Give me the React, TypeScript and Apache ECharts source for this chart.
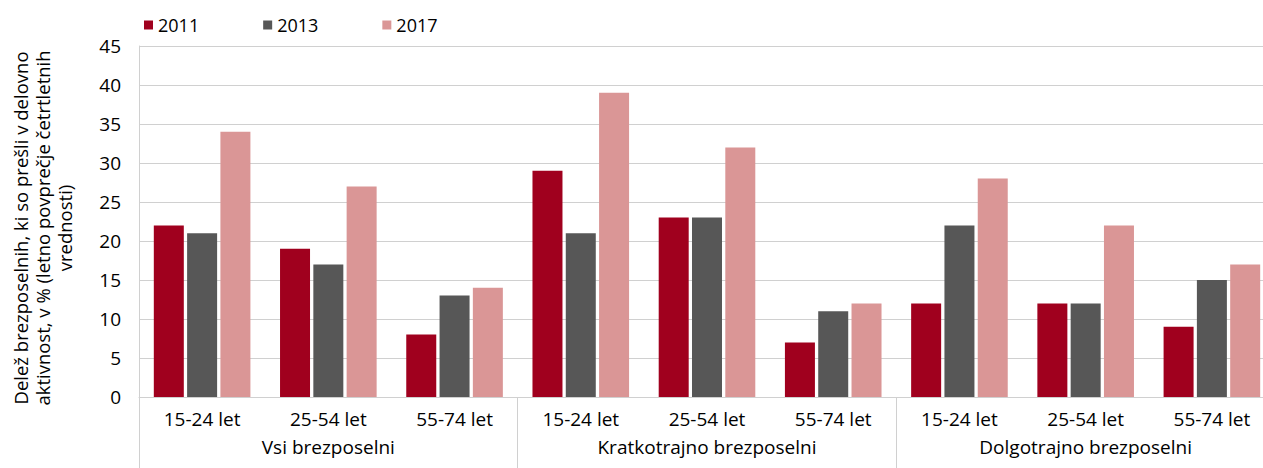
import React, { useEffect, useRef } from "react";
import * as echarts from "echarts";

const subCategories = [
  "15-24 let", "25-54 let", "55-74 let",
  "15-24 let", "25-54 let", "55-74 let",
  "15-24 let", "25-54 let", "55-74 let",
];
const groups = ["Vsi brezposelni", "Kratkotrajno brezposelni", "Dolgotrajno brezposelni"];
const seriesNames = ["2011", "2013", "2017"];
const values2011 = [22, 19, 8, 29, 23, 7, 12, 12, 9];
const values2013 = [21, 17, 13, 21, 23, 11, 22, 12, 15];
const values2017 = [34, 27, 14, 39, 32, 12, 28, 22, 17];
const colors = ["#A0001E", "#575757", "#DA9696"];
const yAxisTitle =
  "Delež brezposelnih, ki so prešli v delovno\naktivnost, v % (letno povprečje četrtletnih\nvrednosti)";

const FONT = "'Open Sans', 'Noto Sans', sans-serif";

export default function App() {
  const ref = useRef<HTMLDivElement>(null);
  useEffect(() => {
    if (!ref.current) return;
    const chart = echarts.init(ref.current, null, { renderer: "svg" });
    const allValues = [values2011, values2013, values2017];
    chart.setOption({
      animation: false,
      textStyle: { fontFamily: FONT },
      legend: {
        left: 139,
        top: 11,
        icon: "rect",
        itemWidth: 9,
        itemHeight: 9,
        itemGap: 64,
        textStyle: { fontSize: 18, color: "#000", fontFamily: FONT },
        data: seriesNames,
      },
      grid: { left: 139, right: 15, top: 46, bottom: 71, containLabel: false },
      xAxis: [
        {
          type: "category",
          data: subCategories,
          position: "bottom",
          axisLine: { show: true, lineStyle: { color: "#d0d0d0", width: 1 } },
          axisTick: { show: false },
          axisLabel: { fontSize: 19, color: "#000", margin: 12, interval: 0, fontFamily: FONT },
        },
        {
          type: "category",
          data: groups,
          position: "bottom",
          offset: 0,
          axisLine: { show: false },
          axisTick: { show: true, length: 80, interval: 0, lineStyle: { color: "#d0d0d0", width: 1 } },
          axisLabel: { fontSize: 19, color: "#000", margin: 40, interval: 0, fontFamily: FONT },
          splitLine: { show: false },
        },
      ],
      yAxis: {
        type: "value",
        min: 0,
        max: 45,
        interval: 5,
        axisLine: { show: true, lineStyle: { color: "#d0d0d0", width: 1 } },
        axisTick: { show: false },
        axisLabel: { fontSize: 19, color: "#000", margin: 18, fontFamily: FONT },
        splitLine: { show: true, lineStyle: { color: "#d0d0d0", width: 1 } },
      },
      graphic: [
        {
          type: "text",
          x: 42,
          y: 228,
          rotation: Math.PI / 2,
          style: {
            text: yAxisTitle,
            align: "center",
            verticalAlign: "middle",
            fontSize: 18.5,
            lineHeight: 22,
            fill: "#000",
            fontFamily: FONT,
          },
        },
      ],
      series: seriesNames.map((name, i) => ({
        name,
        type: "bar",
        xAxisIndex: 0,
        data: allValues[i],
        barWidth: 30,
        barGap: "11%",
        itemStyle: { color: colors[i] },
      })),
    });
    return () => chart.dispose();
  }, []);
  return (
    <div style={{ position: "absolute", left: 0, top: 0, width: 1263, height: 468, overflow: "hidden", background: "#fff" }}>
      <div ref={ref} style={{ width: 1290, height: 468 }} />
    </div>
  );
}
